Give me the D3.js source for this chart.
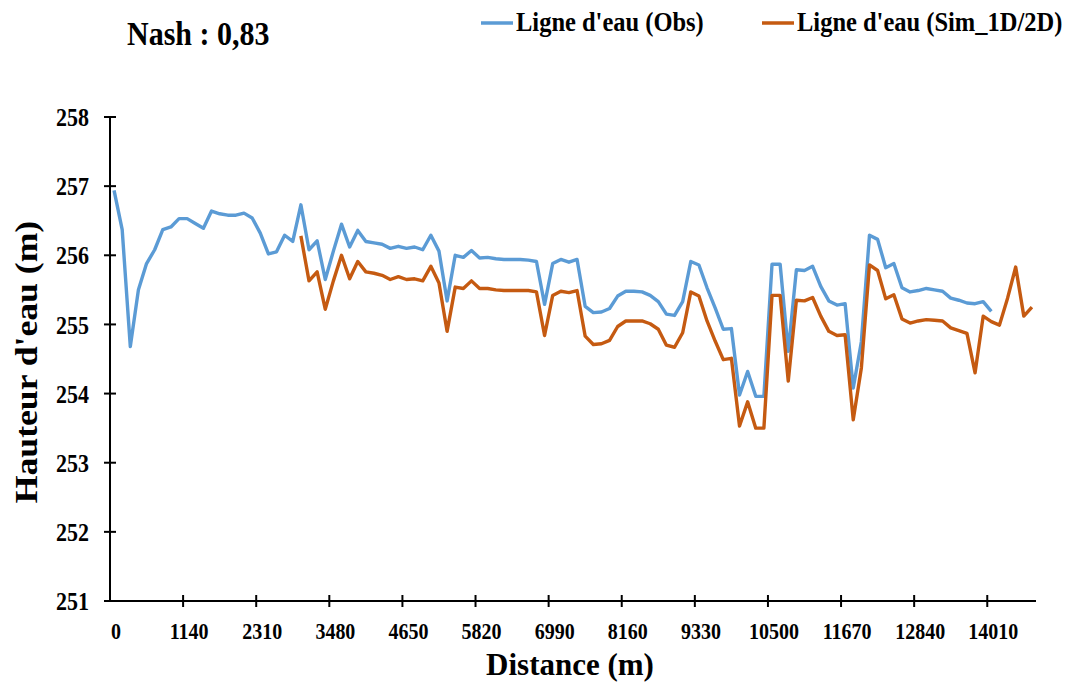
<!DOCTYPE html>
<html><head><meta charset="utf-8">
<script src="https://cdn.jsdelivr.net/npm/d3@7"></script>
<style>body{margin:0;background:#fff}svg text{font-family:"Liberation Serif","Times New Roman",serif;font-weight:bold;fill:#000}</style>
</head><body><svg id="c" width="1079" height="682"></svg>
<script>
const nCategories = 114;
const categories = d3.range(nCategories);
const tickLabels = ["0","1140","2310","3480","4650","5820","6990","8160","9330","10500","11670","12840","14010"];
const labelEvery = 9;
const yTicks = [251,252,253,254,255,256,257,258];
const obs = [256.94,256.37,254.68,255.50,255.88,256.08,256.37,256.41,256.53,256.53,
256.46,256.39,256.64,256.60,256.58,256.58,256.61,256.54,256.32,256.02,
256.05,256.29,256.20,256.73,256.08,256.21,255.65,256.06,256.45,256.12,
256.36,256.20,256.18,256.16,256.10,256.13,256.10,256.12,256.08,256.29,
256.06,255.34,256.00,255.97,256.07,255.96,255.97,255.95,255.94,255.94,
255.94,255.93,255.91,255.29,255.88,255.94,255.90,255.94,255.26,255.17,
255.18,255.23,255.41,255.48,255.48,255.47,255.42,255.33,255.15,255.13,
255.33,255.91,255.86,255.53,255.24,254.93,254.94,253.98,254.32,253.96,
253.96,255.87,255.87,254.61,255.79,255.78,255.84,255.55,255.34,255.28,
255.30,254.08,254.75,256.29,256.23,255.82,255.88,255.53,255.47,255.49,
255.52,255.50,255.48,255.38,255.35,255.31,255.30,255.33,255.19];
const sim = [null,null,null,null,null,null,null,null,null,null,
null,null,null,null,null,null,null,null,null,null,
null,null,null,256.28,255.63,255.76,255.22,255.63,256.00,255.66,
255.91,255.76,255.74,255.71,255.65,255.69,255.65,255.66,255.63,255.84,
255.60,254.90,255.54,255.52,255.63,255.52,255.52,255.50,255.49,255.49,
255.49,255.49,255.47,254.84,255.42,255.48,255.46,255.49,254.83,254.71,
254.72,254.77,254.97,255.05,255.05,255.05,255.01,254.93,254.70,254.67,
254.88,255.47,255.41,255.05,254.76,254.49,254.51,253.53,253.88,253.50,
253.50,255.42,255.42,254.18,255.35,255.34,255.39,255.12,254.90,254.84,
254.85,253.62,254.37,255.86,255.78,255.37,255.43,255.08,255.02,255.05,
255.07,255.06,255.05,254.95,254.91,254.87,254.30,255.12,255.04,254.99,
255.38,255.83,255.12,255.25];
const seriesNames = ["Ligne d'eau (Obs)","Ligne d'eau (Sim_1D/2D)"];
const colors = ["#5B9BD5","#C55A11"];

const svg = d3.select("#c");
const x = d3.scaleBand().domain(categories).range([110,1036]);
const y = d3.scaleLinear().domain([251,258]).range([601,117]);
const cx = i => x(i) + x.bandwidth()/2;
const stretched = (sel, tx, ty, s) => sel.attr("transform", `translate(${tx},${ty}) scale(1,${s})`);

// axes
const g = svg.append("g");
g.append("line").attr("x1",110).attr("x2",110).attr("y1",y(258)).attr("y2",y(251)).attr("stroke","#000").attr("stroke-width",2);
g.append("line").attr("x1",110).attr("x2",x.range()[1]).attr("y1",y(251)).attr("y2",y(251)).attr("stroke","#000").attr("stroke-width",2);
yTicks.forEach(v=>{
  g.append("line").attr("x1",104).attr("x2",116).attr("y1",y(v)).attr("y2",y(v)).attr("stroke","#000").attr("stroke-width",2);
  stretched(g.append("text").attr("text-anchor","end").attr("font-size",22).attr("dy","0.35em").text(v), 89, y(v), 1.18);
});
categories.filter(i=>i%labelEvery===0).forEach((i,k)=>{
  if(i>0) g.append("line").attr("x1",x(i)).attr("x2",x(i)).attr("y1",y(251)-6).attr("y2",y(251)+6).attr("stroke","#000").attr("stroke-width",2);
  stretched(g.append("text").attr("text-anchor","middle").attr("font-size",20).text(tickLabels[k]), cx(i)+2, 639, 1.12);
});

// lines
const line = d3.line().defined(d=>d.v!=null).x(d=>cx(d.i)).y(d=>y(d.v));
[obs,sim].forEach((arr,k)=>{
  svg.append("path").datum(arr.map((v,i)=>({i,v}))).attr("d",line)
    .attr("fill","none").attr("stroke",colors[k]).attr("stroke-width",3.4).attr("stroke-linejoin","round");
});

// titles
svg.append("text").attr("x",570).attr("y",675).attr("text-anchor","middle").attr("font-size",31).text("Distance (m)");
svg.append("text").attr("transform","translate(37,362) rotate(-90) scale(1.15,1)").attr("text-anchor","middle").attr("font-size",31).text("Hauteur d'eau (m)");
stretched(svg.append("text").attr("font-size",30).text("Nash : 0,83"), 127, 45, 1.1);

// legend
const legX = [481,762];
seriesNames.forEach((n,k)=>{
  svg.append("line").attr("x1",legX[k]).attr("x2",legX[k]+32).attr("y1",23).attr("y2",23).attr("stroke",colors[k]).attr("stroke-width",3.5);
  stretched(svg.append("text").attr("font-size",24.5).text(n), legX[k]+35, 31, 1.08);
});
</script></body></html>
